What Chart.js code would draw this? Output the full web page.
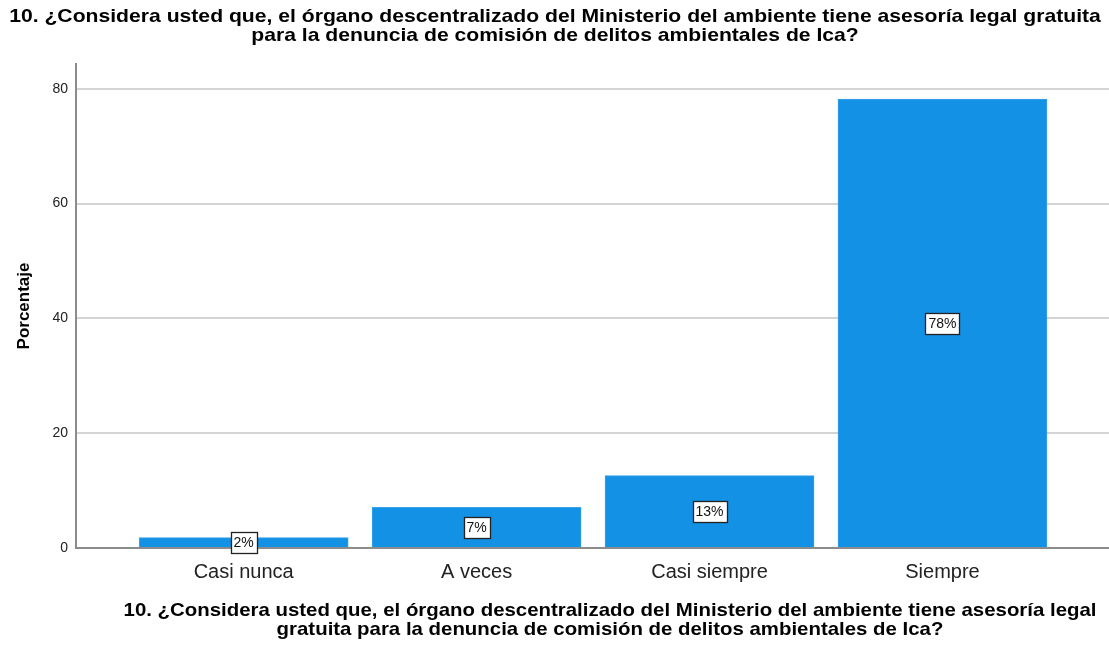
<!DOCTYPE html>
<html>
<head>
<meta charset="utf-8">
<script src="https://cdn.jsdelivr.net/npm/chart.js@4/dist/chart.umd.min.js"></script>
<style>
  html, body { margin: 0; padding: 0; background: #fff; }
  #wrap { width: 1109px; height: 645px; }
</style>
</head>
<body>
<div id="wrap"><canvas id="chartCanvas" width="1109" height="645"></canvas></div>
<script>
// data
const categories = ['Casi nunca', 'A veces', 'Casi siempre', 'Siempre'];
const percentValues = [1.8, 7.1, 12.6, 78.2];
const percentLabels = ['2%', '7%', '13%', '78%'];
const yTicks = [0, 20, 40, 60, 80];

const titleLines = [
  '10. ¿Considera usted que, el órgano descentralizado del Ministerio del ambiente tiene asesoría legal gratuita',
  'para la denuncia de comisión de delitos ambientales de Ica?'
];
const axisTitleLines = [
  '10. ¿Considera usted que, el órgano descentralizado del Ministerio del ambiente tiene asesoría legal',
  'gratuita para la denuncia de comisión de delitos ambientales de Ica?'
];

const FONT = '"Liberation Sans", Arial, sans-serif';

// draws the white boxed percentage labels in the middle of each bar
const boxLabels = {
  id: 'boxLabels',
  afterDatasetsDraw(chart) {
    const ctx = chart.ctx;
    const meta = chart.getDatasetMeta(0);
    ctx.save();
    ctx.font = '14px ' + FONT;
    ctx.textAlign = 'center';
    ctx.textBaseline = 'middle';
    meta.data.forEach((bar, i) => {
      const txt = percentLabels[i];
      const cy = (bar.y + bar.base) / 2;
      const w = Math.round(ctx.measureText(txt).width + 6);
      const h = 21;
      const bx = Math.round(bar.x - w / 2) + 0.5;
      const by = Math.round(cy - h / 2) + 0.5;
      ctx.fillStyle = '#ffffff';
      ctx.fillRect(bx, by, w, h);
      ctx.strokeStyle = '#222';
      ctx.lineWidth = 1.3;
      ctx.strokeRect(bx, by, w, h);
      ctx.fillStyle = '#111';
      ctx.fillText(txt, bar.x, cy + 1);
    });
    ctx.restore();
  }
};

// top title and the long x axis title under the chart (text is slightly wider than Liberation, like the original)
function stretchedText(ctx, txt, cx, cy, sx) {
  ctx.save();
  ctx.translate(cx, cy);
  ctx.scale(sx, 1);
  ctx.fillText(txt, 0, 0);
  ctx.restore();
}
const titles = {
  id: 'titles',
  afterDraw(chart) {
    const ctx = chart.ctx;
    ctx.save();
    ctx.fillStyle = '#000';
    ctx.font = 'bold 18.5px ' + FONT;
    ctx.textAlign = 'center';
    ctx.textBaseline = 'middle';
    stretchedText(ctx, titleLines[0], 555, 17, 1.143);
    stretchedText(ctx, titleLines[1], 555, 36, 1.143);
    stretchedText(ctx, axisTitleLines[0], 610, 611, 1.103);
    stretchedText(ctx, axisTitleLines[1], 610, 630, 1.103);
    ctx.restore();
  }
};

const ctxChart = document.getElementById('chartCanvas').getContext('2d');
const myChart = new Chart(ctxChart, {
  type: 'bar',
  data: {
    datasets: [{
      data: percentValues.map((v, i) => ({ x: i, y: v })),
      backgroundColor: '#1391e5',
      borderColor: '#3aa2ea',
      borderWidth: 1,
      borderSkipped: 'bottom',
      barThickness: 209
    }]
  },
  plugins: [boxLabels, titles],
  options: {
    responsive: false,
    animation: false,
    layout: { padding: { top: 64, right: 0, left: 0, bottom: 0 } },
    plugins: {
      legend: { display: false },
      tooltip: { enabled: false },
      title: { display: false }
    },
    scales: {
      x: {
        type: 'linear',
        offset: false,
        min: -0.72,
        max: 3.715,
        afterBuildTicks: s => { s.ticks = categories.map((c, i) => ({ value: i })); },
        afterFit: s => { s.height = 97; },
        grid: { display: false, drawTicks: false, offset: false },
        border: { display: true, color: '#8c8c8c', width: 2 },
        ticks: {
          padding: 12,
          autoSkip: false,
          maxRotation: 0,
          color: '#222',
          font: { family: FONT, size: 20 },
          callback: v => categories[v]
        }
      },
      y: {
        min: 0,
        max: 84.3,
        afterBuildTicks: s => { s.ticks = yTicks.map(v => ({ value: v })); },
        afterFit: s => { s.width = 76; },
        grid: { color: '#d4d4d4', lineWidth: 2, drawTicks: false },
        border: { display: true, color: '#8c8c8c', width: 2 },
        ticks: {
          padding: 8,
          color: '#222',
          font: { family: FONT, size: 14 }
        },
        title: {
          display: true,
          text: 'Porcentaje',
          color: '#000',
          padding: { top: 14, bottom: 0 },
          font: { family: FONT, size: 17, weight: 'bold' }
        }
      }
    }
  }
});
</script>
</body>
</html>
